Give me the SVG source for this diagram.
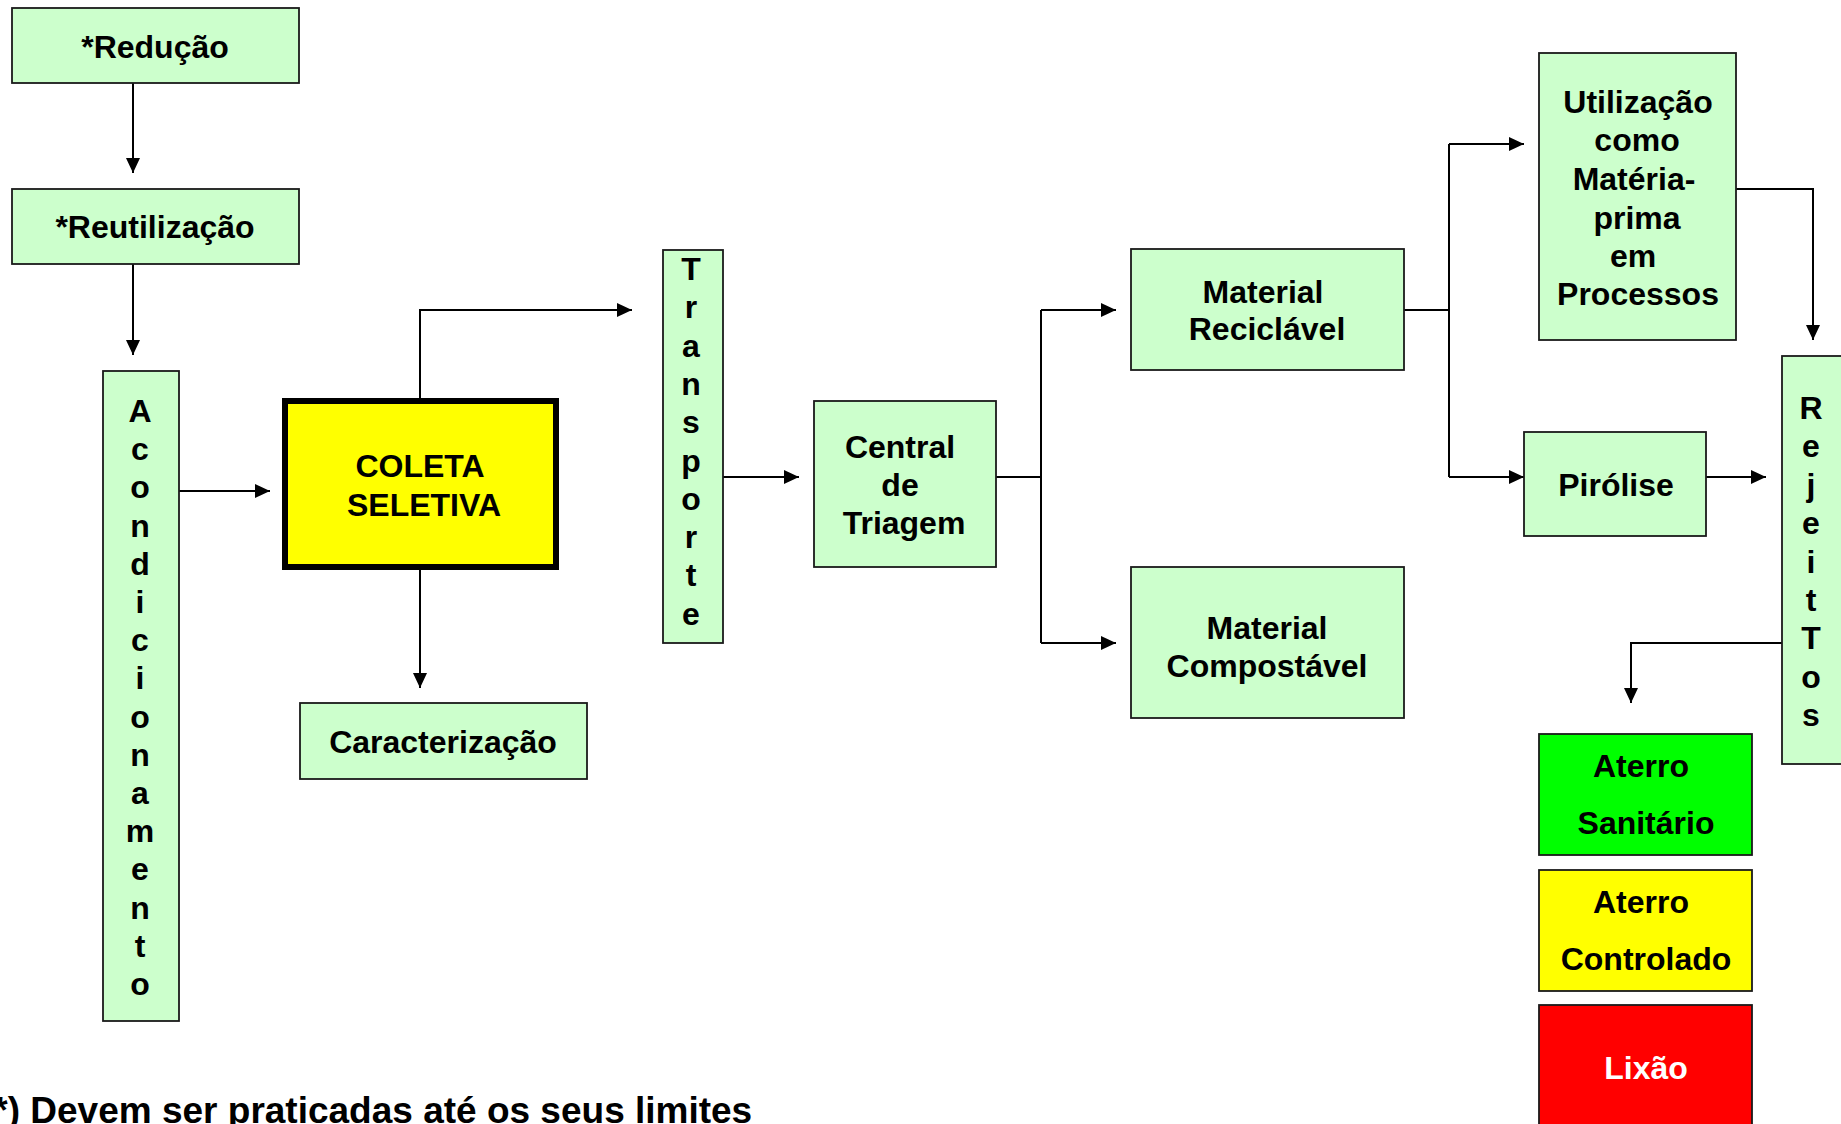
<svg xmlns="http://www.w3.org/2000/svg" width="1841" height="1124" viewBox="0 0 1841 1124">
<style>
.box{fill:#CCFFCC;stroke:#1a1a1a;stroke-width:1.8}
.t{font-family:"Liberation Sans",Arial,sans-serif;font-weight:bold;font-size:32px;fill:#000;text-anchor:middle}
.c{fill:none;stroke:#000;stroke-width:2}
</style>
<defs>
<marker id="ah" markerUnits="userSpaceOnUse" markerWidth="15" markerHeight="14" refX="15" refY="7" orient="auto">
<path d="M0,0 L15,7 L0,14 z" fill="#000"/>
</marker>
</defs>
<rect width="1841" height="1124" fill="#fff"/>
<g id="connectors">
<path class="c" d="M133,83 V173" marker-end="url(#ah)"/>
<path class="c" d="M133,264 V355" marker-end="url(#ah)"/>
<path class="c" d="M179,491 H270" marker-end="url(#ah)"/>
<path class="c" d="M420,398 V310 H632" marker-end="url(#ah)"/>
<path class="c" d="M420,570 V688" marker-end="url(#ah)"/>
<path class="c" d="M723,477 H799" marker-end="url(#ah)"/>
<path class="c" d="M996,477 H1041"/>
<path class="c" d="M1041,310 V643"/>
<path class="c" d="M1041,310 H1116" marker-end="url(#ah)"/>
<path class="c" d="M1041,643 H1116" marker-end="url(#ah)"/>
<path class="c" d="M1404,310 H1449"/>
<path class="c" d="M1449,144 V477"/>
<path class="c" d="M1449,144 H1524" marker-end="url(#ah)"/>
<path class="c" d="M1449,477 H1524" marker-end="url(#ah)"/>
<path class="c" d="M1736,189 H1813 V340" marker-end="url(#ah)"/>
<path class="c" d="M1706,477 H1766" marker-end="url(#ah)"/>
<path class="c" d="M1782,643 H1631 V703" marker-end="url(#ah)"/>
</g>
<g id="reducao">
<rect class="box" x="12" y="8" width="287" height="75"/>
<text class="t" x="155" y="58">*Redução</text>
</g>
<g id="reutilizacao">
<rect class="box" x="12" y="189" width="287" height="75"/>
<text class="t" x="155" y="238">*Reutilização</text>
</g>
<g id="acondicionamento">
<rect class="box" x="103" y="371" width="76" height="650"/>
<text class="t" x="140" y="422"><tspan x="140">A</tspan><tspan x="140" dy="38.2">c</tspan><tspan x="140" dy="38.2">o</tspan><tspan x="140" dy="38.2">n</tspan><tspan x="140" dy="38.2">d</tspan><tspan x="140" dy="38.2">i</tspan><tspan x="140" dy="38.2">c</tspan><tspan x="140" dy="38.2">i</tspan><tspan x="140" dy="38.2">o</tspan><tspan x="140" dy="38.2">n</tspan><tspan x="140" dy="38.2">a</tspan><tspan x="140" dy="38.2">m</tspan><tspan x="140" dy="38.2">e</tspan><tspan x="140" dy="38.2">n</tspan><tspan x="140" dy="38.2">t</tspan><tspan x="140" dy="38.2">o</tspan></text>
</g>
<g id="coleta">
<rect x="285" y="401" width="271" height="166" fill="#FFFF00" stroke="#000" stroke-width="6"/>
<text class="t" x="420" y="477">COLETA</text>
<text class="t" x="424" y="516">SELETIVA</text>
</g>
<g id="caracterizacao">
<rect class="box" x="300" y="703" width="287" height="76"/>
<text class="t" x="443" y="753">Caracterização</text>
</g>
<g id="transporte">
<rect class="box" x="663" y="250" width="60" height="393"/>
<text class="t" x="691" y="280"><tspan x="691">T</tspan><tspan x="691" dy="38.3">r</tspan><tspan x="691" dy="38.3">a</tspan><tspan x="691" dy="38.3">n</tspan><tspan x="691" dy="38.3">s</tspan><tspan x="691" dy="38.3">p</tspan><tspan x="691" dy="38.3">o</tspan><tspan x="691" dy="38.3">r</tspan><tspan x="691" dy="38.3">t</tspan><tspan x="691" dy="38.3">e</tspan></text>
</g>
<g id="central">
<rect class="box" x="814" y="401" width="182" height="166"/>
<text class="t" x="900" y="458">Central</text>
<text class="t" x="900" y="496">de</text>
<text class="t" x="904" y="534">Triagem</text>
</g>
<g id="reciclavel">
<rect class="box" x="1131" y="249" width="273" height="121"/>
<text class="t" x="1263" y="303">Material</text>
<text class="t" x="1267" y="340">Reciclável</text>
</g>
<g id="compostavel">
<rect class="box" x="1131" y="567" width="273" height="151"/>
<text class="t" x="1267" y="639">Material</text>
<text class="t" x="1267" y="677">Compostável</text>
</g>
<g id="utilizacao">
<rect class="box" x="1539" y="53" width="197" height="287"/>
<text class="t" x="1638" y="113">Utilização</text>
<text class="t" x="1637" y="151">como</text>
<text class="t" x="1634" y="190">Matéria-</text>
<text class="t" x="1637" y="228.5">prima</text>
<text class="t" x="1633" y="267">em</text>
<text class="t" x="1638" y="305">Processos</text>
</g>
<g id="pirolise">
<rect class="box" x="1524" y="432" width="182" height="104"/>
<text class="t" x="1616" y="496">Pirólise</text>
</g>
<g id="rejeitos">
<rect class="box" x="1782" y="356" width="70" height="408"/>
<text class="t" x="1811" y="419"><tspan x="1811">R</tspan><tspan x="1811" dy="38.4">e</tspan><tspan x="1811" dy="38.4">j</tspan><tspan x="1811" dy="38.4">e</tspan><tspan x="1811" dy="38.4">i</tspan><tspan x="1811" dy="38.4">t</tspan><tspan x="1811" dy="38.4">T</tspan><tspan x="1811" dy="38.4">o</tspan><tspan x="1811" dy="38.4">s</tspan></text>
</g>
<g id="aterro-sanitario">
<rect x="1539" y="734" width="213" height="121" fill="#00FF00" stroke="#1a1a1a" stroke-width="1.8"/>
<text class="t" x="1641" y="777">Aterro</text>
<text class="t" x="1646" y="834">Sanitário</text>
</g>
<g id="aterro-controlado">
<rect x="1539" y="870" width="213" height="121" fill="#FFFF00" stroke="#1a1a1a" stroke-width="1.8"/>
<text class="t" x="1641" y="913">Aterro</text>
<text class="t" x="1646" y="970">Controlado</text>
</g>
<g id="lixao">
<rect x="1539" y="1005" width="213" height="130" fill="#FF0000" stroke="#1a1a1a" stroke-width="1.8"/>
<text class="t" x="1646" y="1079" style="fill:#fff">Lixão</text>
</g>
<text x="-19" y="1123" font-family="Liberation Sans, Arial, sans-serif" font-weight="bold" font-size="37">(*) Devem ser praticadas até os seus limites</text>
</svg>
